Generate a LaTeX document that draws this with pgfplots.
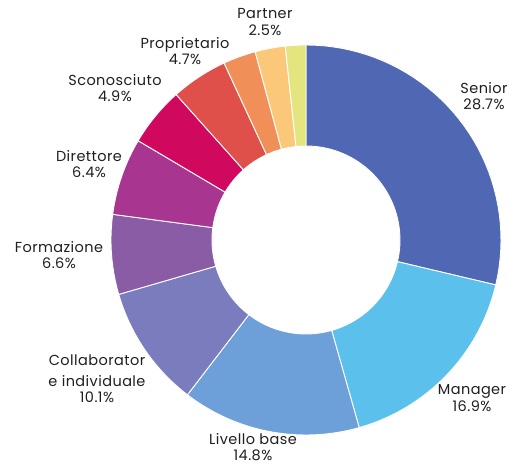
\documentclass[border=0pt]{standalone}
\usepackage{pgfplots}
\pgfplotsset{compat=1.18}
\usepackage{fontspec}
\setmainfont{Poppins}[LetterSpace=3]
\definecolor{cSenior}{HTML}{5068B3}
\definecolor{cManager}{HTML}{5BC0EB}
\definecolor{cBase}{HTML}{6D9FD8}
\definecolor{cCollab}{HTML}{7A7CBD}
\definecolor{cForm}{HTML}{8A5CA6}
\definecolor{cDir}{HTML}{A8358F}
\definecolor{cScon}{HTML}{D0095E}
\definecolor{cProp}{HTML}{E0504A}
\definecolor{cOrange}{HTML}{F09058}
\definecolor{cPartner}{HTML}{FBC87A}
\definecolor{cYel}{HTML}{E5E580}
\tikzset{lbl/.style={align=center, font=\fontsize{14.5}{16.5}\selectfont, text=black!88, inner sep=0pt}}
\newcommand\cum{0}
\newcommand\slice[2]{%
  \pgfmathsetmacro\sa{90-3.6*\cum}%
  \pgfmathsetmacro\sb{90-3.6*(\cum+#1)}%
  \edef\doit{\noexpand\addplot[fill=#2, draw=white, line width=0.9pt, line join=round,
     samples at={0,1,...,40,100,101,...,140}, variable=\noexpand\t]
     ({306+ifthenelse(\noexpand\t<50, 195*cos(\sa+(\sb-\sa)*\noexpand\t/40), 94*cos(\sb-(\sb-\sa)*(\noexpand\t-100)/40))},
      {225+ifthenelse(\noexpand\t<50, 195*sin(\sa+(\sb-\sa)*\noexpand\t/40), 94*sin(\sb-(\sb-\sa)*(\noexpand\t-100)/40))}) -- cycle;}%
  \doit
  \pgfmathsetmacro\newcum{\cum+#1}%
  \xdef\cum{\newcum}%
}
\begin{document}
\begin{tikzpicture}
\begin{axis}[
  width=515pt, height=465pt, scale only axis,
  xmin=0, xmax=515, ymin=0, ymax=465,
  hide axis, clip=false,
]
\slice{28.7}{cSenior}
\slice{16.9}{cManager}
\slice{14.8}{cBase}
\slice{10.1}{cCollab}
\slice{6.6}{cForm}
\slice{6.4}{cDir}
\slice{4.9}{cScon}
\slice{4.7}{cProp}
\slice{2.7}{cOrange}
\slice{2.5}{cPartner}
\slice{1.7}{cYel}
\node[lbl] at (axis cs:484,369) {Senior\\28.7\%};
\node[lbl] at (axis cs:472,67) {Manager\\16.9\%};
\node[lbl] at (axis cs:253,18) {Livello base\\14.8\%};
\node[lbl] at (axis cs:97,86) {Collaborator\\[4pt]e individuale\\10.1\%};
\node[lbl] at (axis cs:59,210) {Formazione\\6.6\%};
\node[lbl] at (axis cs:89,301) {Direttore\\6.4\%};
\node[lbl] at (axis cs:115,377) {Sconosciuto\\4.9\%};
\node[lbl] at (axis cs:185,414) {Proprietario\\4.7\%};
\node[lbl] at (axis cs:265,443) {Partner\\2.5\%};
\end{axis}
\pgfresetboundingbox
\path[use as bounding box] (current axis.south west) rectangle (current axis.north east);
\end{tikzpicture}
\end{document}
